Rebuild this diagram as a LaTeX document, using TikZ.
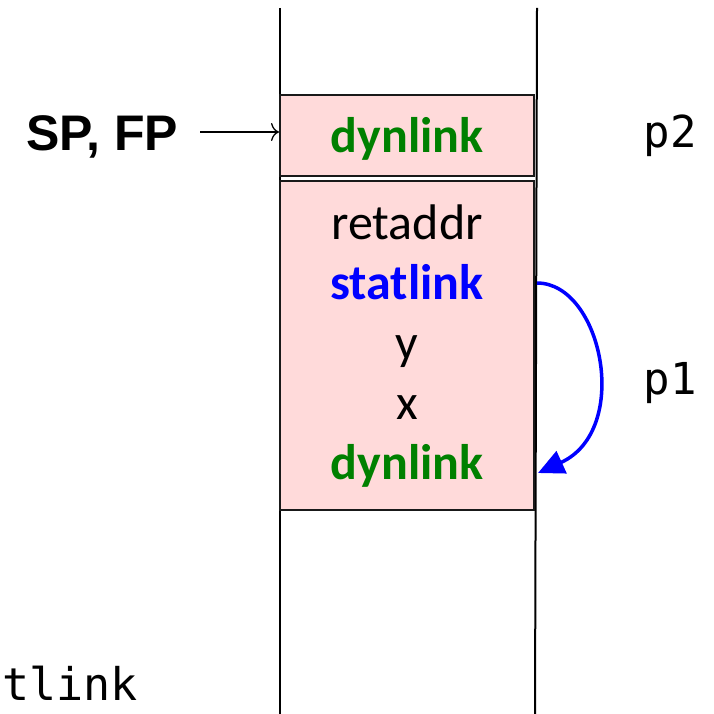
\documentclass[tikz,border=0pt]{standalone}
\usepackage{fontspec}
\setmainfont{Carlito}
\newfontfamily\arialfont{Liberation Sans}
\newfontfamily\monofont{DejaVu Sans Mono}
\usetikzlibrary{arrows.meta}
\definecolor{framepink}{RGB}{255,218,218}
\definecolor{dkgreen}{RGB}{0,128,0}
\definecolor{ptrblue}{RGB}{0,0,255}
\tikzset{
  frame/.style={draw=black!90, line width=2pt, fill=framepink, inner sep=0pt},
  cell/.style={anchor=base, inner sep=0pt, font=\fontsize{50}{60}\selectfont},
  dyn/.style={cell, text=dkgreen, font=\fontsize{50}{60}\selectfont\bfseries},
  stat/.style={cell, text=ptrblue, font=\fontsize{50}{60}\selectfont\bfseries},
  monolabel/.style={anchor=base, inner sep=0pt, font=\monofont\fontsize{44}{52}\selectfont},
  stackline/.style={line width=2pt, black},
}
\begin{document}
\begin{tikzpicture}[x=1pt, y=-1pt]
\useasboundingbox (0,0) rectangle (713,714);
% stack walls
\coordinate (wl1) at (280,8);
\coordinate (wl2) at (280,714);
\coordinate (wr1) at (537,8);
\coordinate (wr2) at (535,714);
\draw[stackline] (wl1) -- (wl2);
\draw[stackline] (wr1) -- (wr2);
% frames
\node[frame, minimum width=254pt, minimum height=81pt] (box1) at (407,136) {};
\node[frame, minimum width=254pt, minimum height=329pt] (box2) at (407,345.5) {};
% texts in frames
\node[dyn] (dyn1) at (407,153) {dynlink};
\node[cell] (ret) at (407,239) {retaddr};
\node[stat] (stat) at (407,299) {statlink};
\node[cell] (yv) at (407,359) {y};
\node[cell] (xv) at (407,419) {x};
\node[dyn] (dyn2) at (407,479) {dynlink};
% SP, FP
\node[anchor=base, inner sep=0pt, font=\arialfont\bfseries\fontsize{50}{60}\selectfont] (spfp) at (102,151) {SP, FP};
\coordinate (a0) at (200,132);
\draw[line width=1.3pt, -{To[length=8pt,width=18pt]}] (a0) -- (a0 -| box1.west);
% side labels
\node[monolabel] (p2) at (670,148) {p2};
\node[monolabel] (p1) at (670,394) {p1};
\node[monolabel, anchor=base west, font=\monofont\fontsize{45}{54}\selectfont] (tl) at (2,700) {tlink};
% static link arrow
\coordinate (s0) at (537,283);
\coordinate (s1) at (538,473);
\draw[ptrblue, line width=3.5pt, -{Triangle[length=26pt,width=24pt]}] (s0) .. controls (602,283) and (632,430) .. (s1);
\end{tikzpicture}
\end{document}
